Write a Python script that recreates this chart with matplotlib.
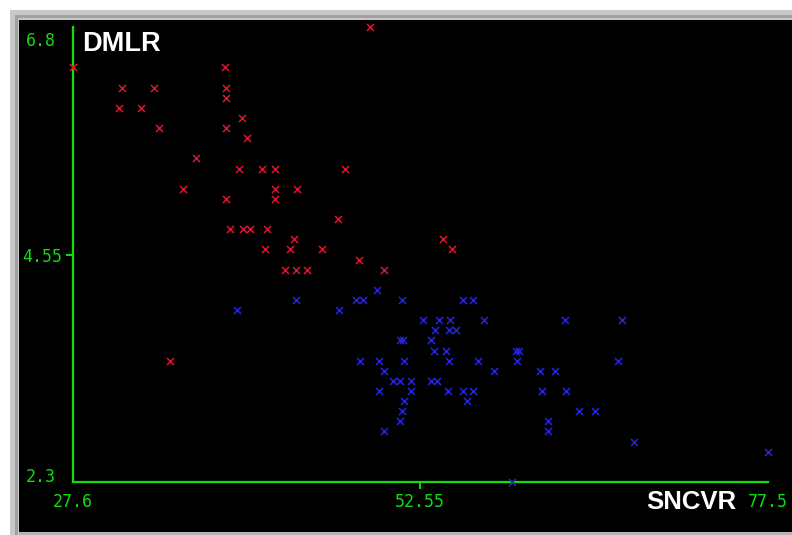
import matplotlib
matplotlib.use("Agg")
import matplotlib.pyplot as plt
from matplotlib.patches import Rectangle

# Scatter of DMLR against SNCVR, two groups
red_sncvr = [27.6, 31.1, 33.4, 30.9, 32.5, 33.8, 38.5, 38.6, 38.6, 39.7, 38.6, 40.1,
             36.4, 39.5, 41.2, 42.1, 47.1, 35.5, 42.1, 43.7, 38.6, 42.1, 46.6, 38.9,
             39.8, 40.3, 41.5, 43.5, 41.4, 43.2, 45.5, 48.1, 42.8, 43.6, 44.4, 49.9,
             54.2, 54.8, 48.9, 34.6]
red_dmlr = [6.4, 6.2, 6.2, 6.0, 6.0, 5.8, 6.4, 6.2, 6.1, 5.9, 5.8, 5.7,
            5.5, 5.4, 5.4, 5.4, 5.4, 5.2, 5.2, 5.2, 5.1, 5.1, 4.9, 4.8,
            4.8, 4.8, 4.8, 4.7, 4.6, 4.6, 4.6, 4.5, 4.4, 4.4, 4.4, 4.4,
            4.7, 4.6, 6.8, 3.5]

blue_sncvr = [39.4, 43.6, 46.7, 47.9, 48.4, 49.4, 51.2, 55.6, 56.3, 52.7, 53.9, 54.7,
              57.1, 62.9, 67.0, 53.6, 54.6, 55.1, 51.1, 51.3, 53.3, 53.5, 54.4, 59.4,
              59.6, 48.2, 49.6, 51.4, 54.6, 56.7, 59.5, 66.7, 49.9, 57.8, 61.1, 62.2,
              50.6, 51.1, 51.9, 53.3, 53.7, 49.6, 51.9, 54.5, 55.6, 56.3, 61.3, 63.0,
              51.4, 55.9, 51.2, 63.9, 65.1, 51.1, 61.7, 61.7, 49.9, 67.9, 77.5, 59.1]
blue_dmlr = [4.0, 4.1, 4.0, 4.1, 4.1, 4.2, 4.1, 4.1, 4.1, 3.9, 3.9, 3.9,
             3.9, 3.9, 3.9, 3.8, 3.8, 3.8, 3.7, 3.7, 3.7, 3.6, 3.6, 3.6,
             3.6, 3.5, 3.5, 3.5, 3.5, 3.5, 3.5, 3.5, 3.4, 3.4, 3.4, 3.4,
             3.3, 3.3, 3.3, 3.3, 3.3, 3.2, 3.2, 3.2, 3.2, 3.2, 3.2, 3.2,
             3.1, 3.1, 3.0, 3.0, 3.0, 2.9, 2.9, 2.8, 2.8, 2.7, 2.6, 2.3]

x_range = [27.6, 77.5]
y_range = [2.3, 6.8]
x_tick_labels = ["27.6", "52.55", "77.5"]
y_tick_labels = ["6.8", "4.55", "2.3"]
x_title = "SNCVR"
y_title = "DMLR"

W, H = 792, 535
GREEN = "#10dc10"
RED = "#dc1430"
BLUE = "#2424e0"

fig = plt.figure(figsize=(W / 100, H / 100), dpi=100, facecolor="white")


def fx(px):
    return px / W


def fy(py):
    return 1 - py / H


def band(x0, y0, x1, y1, color):
    fig.patches.append(Rectangle((fx(x0), fy(y1)), fx(x1) - fx(x0), fy(y0) - fy(y1),
                                 transform=fig.transFigure, facecolor=color,
                                 edgecolor="none", zorder=-5))


# window frame and black panel
band(10, 10, W, 20, "#c8c8c8")
band(10, 10, 20, H, "#c8c8c8")
band(15, 15, W, 18, "#a0a0a0")
band(15, 15, 18, H, "#a0a0a0")
band(19, 20, W, 532, "black")
band(19, 532, W, H, "#b4b4b4")

ax = fig.add_axes([fx(73), fy(482), fx(768) - fx(73), fy(27) - fy(482)])
ax.set_zorder(2)
ax.set_facecolor("none")
ax.set_xlim(*x_range)
ax.set_ylim(*y_range)
for side in ("top", "right"):
    ax.spines[side].set_visible(False)
for side in ("left", "bottom"):
    ax.spines[side].set_color(GREEN)
    ax.spines[side].set_linewidth(1.6)
mid_x = (x_range[0] + x_range[1]) / 2
mid_y = (y_range[0] + y_range[1]) / 2
ax.set_xticks([mid_x])
ax.set_yticks([mid_y])
ax.set_xticklabels([])
ax.set_yticklabels([])
ax.tick_params(axis="both", colors=GREEN, length=5, width=1.4, direction="out")

ax.scatter(red_sncvr, red_dmlr, marker="x", s=26, linewidths=1.1, color=RED,
           zorder=3, clip_on=False)
ax.scatter(blue_sncvr, blue_dmlr, marker="x", s=26, linewidths=1.1, color=BLUE,
           zorder=3, clip_on=False)

mono = dict(family="DejaVu Sans Mono", fontsize=12, color=GREEN, zorder=3)
# y labels to the left of the axis
fig.text(fx(56), fy(41), y_tick_labels[0], ha="right", va="center", **mono)
fig.text(fx(62), fy(257), y_tick_labels[1], ha="right", va="center", **mono)
fig.text(fx(56), fy(477), y_tick_labels[2], ha="right", va="center", **mono)
# x labels under the axis
fig.text(fx(73), fy(502), x_tick_labels[0], ha="center", va="center", **mono)
fig.text(fx(420), fy(502), x_tick_labels[1], ha="center", va="center", **mono)
fig.text(fx(768), fy(502), x_tick_labels[2], ha="center", va="center", **mono)

title_font = dict(family="Liberation Sans", fontweight="bold", color="white", zorder=3)
fig.text(fx(82), fy(44), y_title, ha="left", va="center", fontsize=19.5, **title_font)
fig.text(fx(736), fy(502), x_title, ha="right", va="center", fontsize=18.5, **title_font)

fig.savefig("out.png", dpi=100, facecolor="white")
